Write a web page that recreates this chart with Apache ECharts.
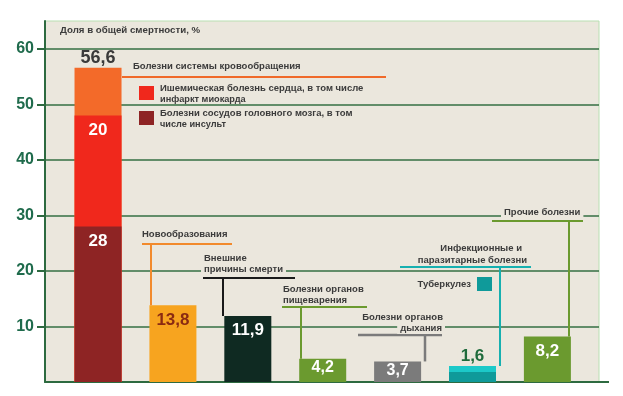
<!DOCTYPE html>
<html><head><meta charset="utf-8">
<script src="https://cdn.jsdelivr.net/npm/echarts@6/dist/echarts.min.js"></script>
<style>html,body{margin:0;padding:0;background:#fff}#c{width:623px;height:396px}</style>
</head><body><div id="c"></div>
<script>
// ---- data ----
const categories = ['Болезни системы кровообращения','Новообразования','Внешние причины смерти','Болезни органов пищеварения','Болезни органов дыхания','Инфекционные и паразитарные болезни','Прочие болезни'];
const totalLabels = ['56,6','13,8','11,9','4,2','3,7','1,6','8,2'];
const baseValues = [28, 13.8, 11.9, 4.2, 3.7, 1.8, 8.2];   // bottom segment (stroke / tuberculosis / whole bar)
const midValues  = [20, 0, 0, 0, 0, 1.1, 0];   // ischemic heart disease / other infections
const topValues  = [8.6, 0, 0, 0, 0, 0, 0];    // rest of circulatory
const baseLabels = ['28','13,8','11,9','4,2','3,7','','8,2'];
const midLabels  = ['20','','','','','1,6',''];
const yLabelValues = [10,20,30,40,50,60];

const BG = '#ebe7dd';
const baseColors = ['#8e2424','#f7a41f','#0f2a22','#6b9a2f','#7b7b7b','#0f9a9a','#6b9a2f'];
const midColors  = ['#f0281c','','','','','#1cc9c9',''];
const topColor = '#f36a29';
const baseLabelColors = ['#fff','#8a2a12','#fff','#fff','#fff','#fff','#fff'];

const chart = echarts.init(document.getElementById('c'), null, {renderer:'canvas'});
const FONT = '"Liberation Sans", Arial, sans-serif';

// cumulative heights, drawn back-to-front so segments appear stacked
const cumMid = baseValues.map((v,i)=>v+midValues[i]);
const cumTop = cumMid.map((v,i)=>v+topValues[i]);

const topData = [], midData = [], baseData = [];
categories.forEach((c,i)=>{
  if (topValues[i] > 0) topData.push({value:[i,cumTop[i]], itemStyle:{color:topColor},
      label:{show:true, position:'top', distance:1, formatter: totalLabels[i], color:'#3a3a3a', fontSize:18}});
  if (midValues[i] > 0) midData.push({value:[i,cumMid[i]], itemStyle:{color:midColors[i]},
      label: topValues[i] > 0
        ? {show:true, position:'insideTop', distance:6, color:'#fff', formatter:midLabels[i]}
        : {show:true, position:'top', distance:1, color:'#1f6b3c', formatter:midLabels[i], backgroundColor:BG, padding:[0,3]}});
  baseData.push({value:[i,baseValues[i]], itemStyle:{color:baseColors[i]},
      label:{show: baseLabels[i]!=='', position:'insideTop', distance: baseValues[i] < 5 ? 1 : 6,
             fontSize: baseValues[i] < 5 ? 16 : 17, formatter: baseLabels[i], color: baseLabelColors[i]}});
});

const labelFont = {fontSize:17, fontWeight:'bold', fontFamily:FONT};
const option = {
  backgroundColor: '#fff',
  animation: false,
  grid: {left:45, right:24, top:21, bottom:14, show:true, backgroundColor:BG, borderColor:'#b9dfb2', borderWidth:1},
  xAxis: {type:'value', min:-0.708, max:6.689, show:true,
    axisLine:{show:true, onZero:false, lineStyle:{color:'#2d6a40', width:2}},
    axisTick:{show:false}, axisLabel:{show:false}, splitLine:{show:false}},
  yAxis: {type:'value', min:0, max:65, interval:5,
    axisLine:{show:true, onZero:false, lineStyle:{color:'#2d6a40', width:2}},
    axisTick:{show:true, customValues: yLabelValues, length:8, lineStyle:{color:'#2d6a40', width:2}},
    axisLabel:{customValues: yLabelValues, color:'#1f6b4c', fontSize:16, fontWeight:'bold', fontFamily:FONT, margin:11},
    splitLine:{show:true, lineStyle:{color:'#356f42', width:1.5}}},
  series: [
    {type:'bar', barWidth:47, barGap:'-100%', z:3, data: topData, label: labelFont},
    {type:'bar', barWidth:47, barGap:'-100%', z:3, data: midData, label: labelFont},
    {type:'bar', barWidth:47, barGap:'-100%', z:3, data: baseData, label: labelFont}
  ]
};
chart.setOption(option);

// ---- annotations ----
function py(i){ return chart.convertToPixel({xAxisIndex:0,yAxisIndex:0},[i,cumTop[i]])[1]; }
const TXT = '#3b3b3b';
function T(text,x,y,opt){ opt=opt||{}; const al = opt.align||'left';
  if (opt.bg) x += (al==='left' ? -3 : 3);
  return {type:'text', z:100, style:Object.assign({text:text, x:x, y:y, fill:TXT,
  font:'bold '+(opt.size||9.5)+'px '+FONT, align:al, verticalAlign:'middle'}, opt.bg?{backgroundColor:BG, padding:[1,3]}:{})}; }
function L(x1,y1,x2,y2,c,w){ return {type:'line', z:90, shape:{x1:x1,y1:y1,x2:x2,y2:y2}, style:{stroke:c, lineWidth:w||2}}; }
function R(x,y,w,h,c){ return {type:'rect', z:100, shape:{x:x,y:y,width:w,height:h}, style:{fill:c}}; }

const g = [
  L(599, 382, 609, 382, '#2d6a40', 2),
  T('Доля в общей смертности, %', 60, 30, {size:9.7}),
  T('Болезни системы кровообращения', 133, 66),
  L(122, 77, 386, 77, '#f06a2a', 2),
  R(139, 86, 15, 14, '#f0281c'),
  T('Ишемическая болезнь сердца, в том числе', 160, 88),
  T('инфаркт миокарда', 160, 99, {size:9.2}),
  R(139, 111, 15, 14, '#8e2424'),
  T('Болезни сосудов головного мозга, в том', 160, 113),
  T('числе инсульт', 160, 124, {size:9.2}),

  T('Новообразования', 142, 234),
  L(142, 244, 232, 244, '#f28a2c', 2),
  L(151, 244, 151, py(1), '#f28a2c', 2),

  T('Внешние', 204, 258, {bg:true}),
  T('причины смерти', 204, 269, {bg:true}),
  L(203, 278, 295, 278, '#1a1a1a', 2),
  L(223, 278, 223, py(2), '#1a1a1a', 2),

  T('Болезни органов', 283, 289, {bg:true}),
  T('пищеварения', 283, 300, {bg:true}),
  L(282, 307, 367, 307, '#6b9a2f', 2),
  L(301, 307, 301, py(3), '#6b9a2f', 2),

  T('Болезни органов', 443, 317, {align:'right', bg:true}),
  T('дыхания', 442, 328, {align:'right', bg:true}),
  L(358, 335, 442, 335, '#7b7b7b', 2.5),
  L(425, 335, 425, py(4), '#7b7b7b', 2.5),

  T('Инфекционные и', 522, 248, {align:'right', bg:true}),
  T('паразитарные болезни', 527, 260, {align:'right', bg:true}),
  L(400, 267, 531, 267, '#16b0b0', 2),
  L(500, 267, 500, py(5), '#16b0b0', 2),
  T('Туберкулез', 471, 284, {align:'right'}),
  R(477, 277, 15, 14, '#0f9a9a'),

  T('Прочие болезни', 504, 212, {bg:true}),
  L(492, 221, 583, 221, '#6b9a2f', 2),
  L(569, 221, 569, py(6), '#6b9a2f', 2)
];
chart.setOption({graphic: g});
</script></body></html>
